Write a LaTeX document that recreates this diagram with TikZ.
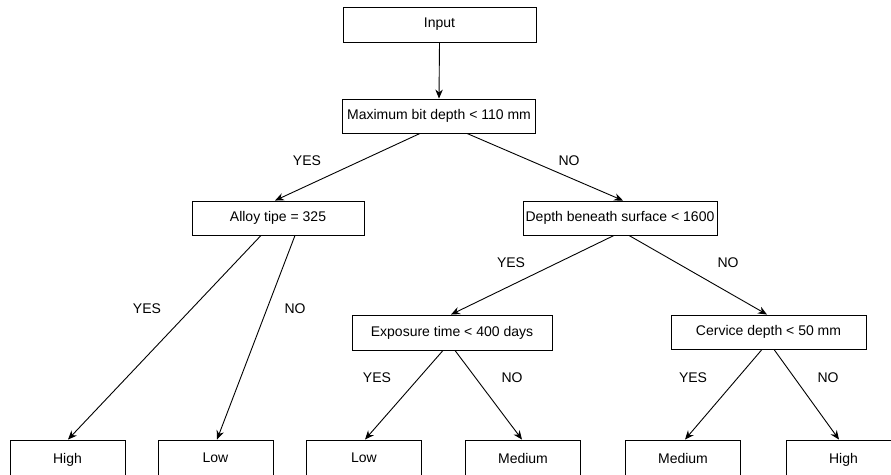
\documentclass[tikz,border=0pt]{standalone}
\usepackage{fontspec}
\setmainfont{Liberation Sans}
\usetikzlibrary{arrows.meta}
\begin{document}
\begin{tikzpicture}[x=1pt,y=-1pt,
  font=\fontsize{14}{16}\selectfont,
  box/.style={draw=black,line width=0.9pt,fill=white,rectangle,inner sep=0pt,
    minimum height=34pt},
  leaf/.style={box,minimum width=115pt,minimum height=36pt,text depth=0pt},
  arr/.style={draw=black,line width=0.9pt,-{Stealth[length=9pt,width=7.5pt]}},
  lbl/.style={inner sep=0pt}]
\useasboundingbox (0,0) rectangle (891,474);

% decision boxes
\node[box,minimum width=193pt,minimum height=35pt] (input) at (439.5,24.5) {Input};
\node[box,minimum width=193pt] (maxd) at (439,116) {Maximum bit depth < 110 mm};
\node[box,minimum width=172pt] (alloy) at (278,218) {Alloy tipe = 325};
\node[box,minimum width=194pt] (depth) at (620,218) {Depth beneath surface < 1600};
\node[box,minimum width=200pt,minimum height=35pt] (expo) at (452,332.5) {Exposure time < 400 days};
\node[box,minimum width=195pt] (cerv) at (768.5,332) {Cervice depth < 50 mm};

% outcome boxes (top edge at y=440)
\node[leaf] (o1) at (67.5,458) {High};
\node[leaf] (o2) at (215.5,458) {Low};
\node[leaf] (o3) at (364,458) {Low};
\node[leaf] (o4) at (523,458) {Medium};
\node[leaf] (o5) at (683,458) {Medium};
\node[leaf] (o6) at (843.5,458) {High};

% connectors
\draw[arr] (input.south) -- (maxd.north);
\draw[arr] ([xshift=-19pt]maxd.south) -- ([xshift=-3pt]alloy.north);
\draw[arr] ([xshift=28pt]maxd.south) -- ([xshift=3pt]depth.north);
\draw[arr] ([xshift=-17pt]alloy.south) -- ([xshift=0.5pt]o1.north);
\draw[arr] ([xshift=17pt]alloy.south) -- ([xshift=1.5pt]o2.north);
\draw[arr] ([xshift=-6pt]depth.south) -- ([xshift=-1pt]expo.north);
\draw[arr] ([xshift=9pt]depth.south) -- ([xshift=-1.5pt]cerv.north);
\draw[arr] ([xshift=-9pt]expo.south) -- ([xshift=1pt]o3.north);
\draw[arr] ([xshift=3pt]expo.south) -- ([xshift=-1pt]o4.north);
\draw[arr] ([xshift=-6.5pt]cerv.south) -- ([xshift=2pt]o5.north);
\draw[arr] ([xshift=5.5pt]cerv.south) -- ([xshift=-4.5pt]o6.north);

% branch labels
\node[lbl] (l1) at (307,161) {YES};
\node[lbl] (l2) at (569,161) {NO};
\node[lbl] (l3) at (147,309) {YES};
\node[lbl] (l4) at (295,309) {NO};
\node[lbl] (l5) at (511,263) {YES};
\node[lbl] (l6) at (728,263) {NO};
\node[lbl] (l7) at (377,378) {YES};
\node[lbl] (l8) at (512,378) {NO};
\node[lbl] (l9) at (693,378) {YES};
\node[lbl] (l10) at (828,378) {NO};
\end{tikzpicture}
\end{document}
